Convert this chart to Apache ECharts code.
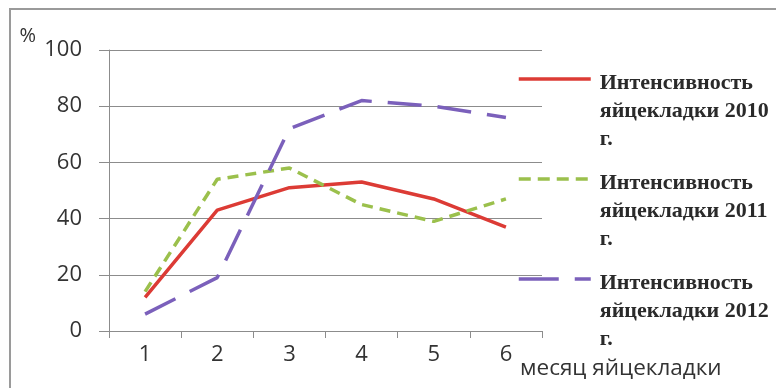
<!DOCTYPE html>
<html><head><meta charset="utf-8">
<script src="https://cdn.jsdelivr.net/npm/echarts@6/dist/echarts.min.js"></script>
<style>html,body{margin:0;padding:0;background:#fff}#c{width:776px;height:388px}</style>
</head><body><div id="c"></div>
<script>
var months = ['1','2','3','4','5','6'];
var s2010 = [12, 43, 51, 53, 47, 37];
var s2011 = [14, 54, 58, 45, 39, 47];
var s2012 = [6, 19, 72, 82, 80, 76];
var names = ['Интенсивность яйцекладки 2010 г.', 'Интенсивность яйцекладки 2011 г.', 'Интенсивность яйцекладки 2012 г.'];
var yTicks = [0, 20, 40, 60, 80, 100];

var chart = echarts.init(document.getElementById('c'), null, {renderer:'canvas'});
var axisFont = 'Open Sans, Liberation Sans, sans-serif';
var C_RED = '#dc3b35', C_GREEN = '#9bc04c', C_PURPLE = '#7b60bb';
function legendFmt(n){
  var p = n.split(' ');
  return '{g| }\n{t|' + p[0] + '}\n{t|' + p[1] + ' ' + p[2] + '}\n{t|' + p[3] + '}';
}
function mkLegend(name, top, ls){
  return {
    data:[name], left:517, top:top, padding:0, itemWidth:72, itemHeight:14,
    formatter: legendFmt, selectedMode:false,
    itemStyle:{opacity:0},
    lineStyle:ls,
    textStyle:{fontFamily:'Liberation Serif, serif', fontSize:22, fontWeight:'bold', color:'#2a2a2a',
      rich:{
        g:{fontSize:10, lineHeight:64},
        t:{fontFamily:'Liberation Serif, serif', fontSize:22, fontWeight:'bold', color:'#2a2a2a', lineHeight:28, padding:[0,0,0,4]}
      }}
  };
}
chart.setOption({
  animation:false,
  grid:{left:109, right:234, top:50, bottom:57},
  graphic:[
    {type:'line', shape:{x1:9, y1:9, x2:776, y2:9}, style:{stroke:'#9a9a9a', lineWidth:2}},
    {type:'line', shape:{x1:10, y1:9, x2:10, y2:388}, style:{stroke:'#9a9a9a', lineWidth:2}}
  ],
  legend:[
    mkLegend(names[0], 32, {width:3.5, color:C_RED}),
    mkLegend(names[1], 132, {width:3.5, color:C_GREEN, type:[12,7]}),
    mkLegend(names[2], 232, {width:3.5, color:C_PURPLE, type:[40,16]})
  ],
  xAxis:{type:'category', data:months, boundaryGap:true,
    axisLine:{lineStyle:{color:'#8c8c8c', width:1}},
    axisTick:{show:true, length:7, lineStyle:{color:'#8c8c8c'}},
    axisLabel:{fontFamily:axisFont, fontSize:22, color:'#333', margin:13},
    name:'месяц яйцекладки', nameLocation:'end', nameGap:-22,
    nameTextStyle:{fontFamily:axisFont, fontSize:22.5, color:'#333', align:'left', verticalAlign:'top', padding:[26,0,0,0]}
  },
  yAxis:{type:'value', min:0, max:100, interval:20,
    axisLine:{show:true, lineStyle:{color:'#8c8c8c', width:1}},
    axisTick:{show:true, length:10, lineStyle:{color:'#8c8c8c'}},
    axisLabel:{fontFamily:axisFont, fontSize:22, color:'#333', margin:27},
    splitLine:{lineStyle:{color:'#8c8c8c', width:1}},
    name:'%', nameLocation:'end', nameGap:14,
    nameTextStyle:{fontFamily:axisFont, fontSize:20, color:'#333', align:'right', verticalAlign:'middle', padding:[0,73,0,0]}
  },
  series:[
    {name:names[0], type:'line', data:s2010, symbol:'none', lineStyle:{color:C_RED, width:3.5}, itemStyle:{color:C_RED}},
    {name:names[1], type:'line', data:s2011, symbol:'none', lineStyle:{color:C_GREEN, width:3.5, type:[11,7]}, itemStyle:{color:C_GREEN}},
    {name:names[2], type:'line', data:s2012, symbol:'none', lineStyle:{color:C_PURPLE, width:3.5, type:[34,16]}, itemStyle:{color:C_PURPLE}}
  ]
});
</script></body></html>
